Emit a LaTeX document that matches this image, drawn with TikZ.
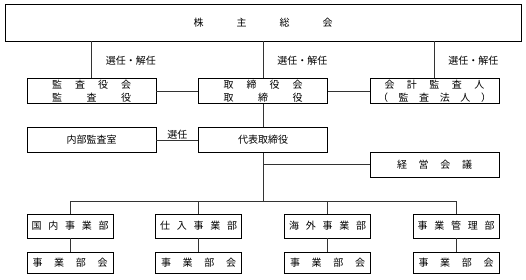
\documentclass[tikz,border=0pt]{standalone}
\usepackage{fontspec}
\newfontfamily\jp{Noto Sans CJK JP}
\usetikzlibrary{positioning, calc}
\definecolor{cline}{HTML}{333333}
\tikzset{
  every picture/.style={font=\jp\fontsize{10}{13}\selectfont, line width=0.8pt, x=1pt, y=-1pt},
  box/.style={draw=black, fill=white, align=center, inner sep=0pt, minimum width=129pt, minimum height=25pt},
  link/.style={draw=cline, line width=0.8pt},
  lbl/.style={inner sep=0pt, anchor=west},
}

\begin{document}
\begin{tikzpicture}[div/.style={box, minimum width=86pt, minimum height=24pt},
  meet/.style={div, minimum height=21pt}]
  \useasboundingbox (0,0) rectangle (526,279);
  \node[box, minimum width=516pt, minimum height=37pt] (gm) at (263,22.5) {\makebox[139pt]{株\hfill 主\hfill 総\hfill 会}};
  \node[box] (aud) at (91.5,91) {\makebox[79pt]{監\hfill 査\hfill 役\hfill 会}\\\makebox[79pt]{監\hfill 査\hfill 役}};
  \node[box] (board) at (263,91) {\makebox[79pt]{取\hfill 締\hfill 役\hfill 会}\\\makebox[79pt]{取\hfill 締\hfill 役}};
  \node[box] (acct) at (434.5,91) {\makebox[100pt]{会\hfill 計\hfill 監\hfill 査\hfill 人}\\\makebox[113pt]{（\hfill 監\hfill 査\hfill 法\hfill 人\hfill ）}};
  \node[box] (audit) at (91.5,140) {内部監査室};
  \node[box] (ceo) at (263,140) {代表取締役};
  \node[box] (mgmt) at (434.5,164.5) {\makebox[75pt]{経\hfill 営\hfill 会\hfill 議}};
  \foreach \x/\k in {105.5, 277, 448} \node[lbl] at (\x,61) {選任・解任};
  \draw[link] (gm.south -| aud.north) -- (aud.north);
  \draw[link] (gm) -- (board);
  \draw[link] (gm.south -| acct.north) -- (acct.north);
  \draw[link] (aud) -- (board);
  \draw[link] (board) -- (acct);
  \draw[link] (board) -- (ceo);
  \draw[link] (audit) -- node[above, inner sep=0.5pt] (pick) {選任} (ceo);
  \draw[link] (ceo.south |- mgmt.west) -- (mgmt.west);
  \coordinate (bus) at (263,201);
  \draw[link] (ceo) -- (bus);
  \foreach \x/\name [count=\i] in {70/{国\hfill 内\hfill 事\hfill 業\hfill 部}, 198.5/{仕\hfill 入\hfill 事\hfill 業\hfill 部},
    327.5/{海\hfill 外\hfill 事\hfill 業\hfill 部}, 456/{事\hfill 業\hfill 管\hfill 理\hfill 部}} {
    \node[div] (dv\i) at (\x,226) {\makebox[77pt]{\name}};
    \node[meet] (mt\i) at (\x,262.5) {\makebox[75pt]{事\hfill 業\hfill 部\hfill 会}};
    \draw[link] (dv\i) -- (mt\i);
    \draw[link] (dv\i.north) -- (dv\i.north |- bus);
  }
  \draw[link] (dv1.north |- bus) -- (dv4.north |- bus);
\end{tikzpicture}
\end{document}
